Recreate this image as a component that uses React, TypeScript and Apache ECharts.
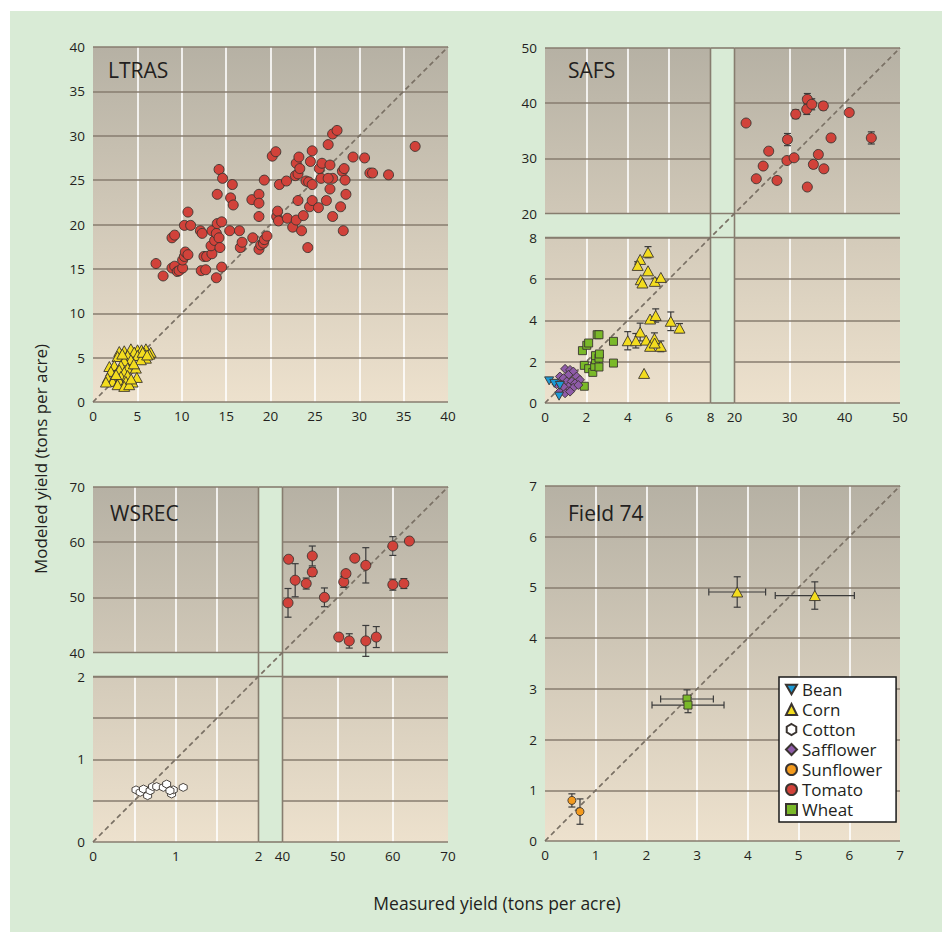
import React, { useEffect, useRef } from "react";
import * as echarts from "echarts";

// ---------------- DATA ----------------
const legendNames = ["Bean", "Corn", "Cotton", "Safflower", "Sunflower", "Tomato", "Wheat"];

// LTRAS
const ltrasTomato: number[][] = [
  [7.1, 15.6], [7.9, 14.2], [8.9, 18.5], [9.2, 18.8], [8.9, 15.1], [9.2, 15.3], [9.5, 14.7], [9.7, 14.8],
  [10.1, 15.1], [10.1, 16.0], [10.3, 16.4], [10.4, 16.9], [10.7, 16.6], [10.3, 19.9], [10.7, 21.4], [11.0, 19.9],
  [12.2, 14.8], [12.7, 14.9], [12.5, 16.4], [12.8, 16.4], [12.1, 19.3], [12.3, 19.0], [13.4, 19.3], [13.4, 16.7],
  [13.3, 17.6], [13.7, 18.2], [13.9, 19.0], [14.2, 18.5], [14.3, 17.4], [13.9, 14.0], [14.5, 15.2], [14.0, 20.1],
  [14.5, 20.3], [14.2, 26.2], [14.6, 25.2], [14.0, 23.4], [15.4, 19.3], [15.5, 23.0], [15.8, 22.2], [15.7, 24.5],
  [16.5, 19.3], [16.6, 17.4], [16.8, 18.0], [17.9, 22.8], [18.0, 18.5], [18.7, 23.4], [18.7, 22.4], [18.7, 20.9],
  [18.7, 17.2], [18.9, 17.7], [19.2, 17.9], [19.3, 18.3], [19.6, 18.7], [19.3, 25.0], [20.2, 27.7], [20.6, 28.2],
  [20.7, 20.9], [20.8, 21.5], [20.9, 20.4], [21.0, 24.5], [21.8, 24.9], [21.9, 20.7], [22.5, 19.7], [22.9, 20.5],
  [23.1, 22.7], [23.5, 19.3], [23.7, 21.0], [22.8, 25.5], [23.1, 25.7], [22.9, 26.9], [23.2, 27.6], [23.3, 26.3],
  [24.0, 24.9], [24.3, 24.8], [24.7, 24.5], [24.2, 17.4], [24.4, 22.0], [24.7, 22.7], [24.5, 27.1], [24.7, 28.3],
  [25.4, 21.9], [25.5, 26.3], [25.8, 26.9], [25.7, 25.2], [26.5, 29.0], [26.7, 26.7], [26.7, 24.0], [26.3, 22.7],
  [27.0, 20.9], [27.0, 25.2], [26.5, 25.2], [27.0, 30.2], [27.5, 30.6], [27.9, 22.0], [28.2, 19.3], [28.1, 26.0],
  [28.3, 26.3], [28.4, 25.0], [28.5, 23.4], [29.3, 27.6], [30.6, 27.5], [31.2, 25.8], [31.5, 25.8], [33.3, 25.6],
  [36.3, 28.8],
];
const ltrasCorn: number[][] = [
  [2.96, 5.69], [3.52, 5.77], [4.27, 5.99], [5.02, 5.88], [5.47, 5.88], [5.96, 5.99], [6.5, 5.6], [6.33, 5.39],
  [5.77, 5.51], [4.64, 5.62], [2.77, 5.13], [3.9, 5.24], [5.02, 5.24], [5.96, 4.94], [5.39, 4.76], [4.27, 4.76],
  [3.52, 4.64], [1.84, 4.0], [2.4, 4.12], [3.15, 4.12], [3.9, 3.82], [4.83, 3.82], [2.96, 3.63], [2.02, 3.45],
  [3.52, 3.37], [1.65, 2.7], [2.4, 2.77], [3.15, 2.88], [3.9, 3.0], [4.94, 2.77], [2.21, 2.32], [2.96, 2.4],
  [3.71, 2.32], [4.46, 2.25], [2.77, 1.95], [3.52, 1.76], [4.08, 1.95], [1.46, 2.25], [4.6, 4.3], [5.6, 5.6],
  [6.1, 5.3], [3.3, 5.4], [2.6, 3.1], [4.3, 2.6],
];

// SAFS  [x, y, yErr]
const safsTomato: number[][] = [
  [22.1, 36.4, 0], [23.95, 26.3, 0.4], [25.2, 28.6, 0], [26.2, 31.3, 0], [27.7, 26.0, 0], [29.5, 29.6, 0],
  [29.6, 33.4, 1.1], [30.8, 30.1, 0], [31.1, 38.0, 0.8], [33.2, 40.7, 1.05], [33.1, 38.9, 0.95], [34.0, 39.8, 1.0],
  [33.2, 24.8, 0], [34.3, 28.9, 0.7], [35.2, 30.7, 0], [36.1, 39.5, 0.7], [36.2, 28.1, 0.6], [37.5, 33.7, 0.65],
  [40.8, 38.3, 0], [44.8, 33.7, 1.1],
];
const safsCorn: number[][] = [
  [4.98, 7.29, 0.27], [4.6, 6.94, 0], [4.48, 6.65, 0.18], [4.98, 6.39, 0], [4.63, 5.96, 0], [4.71, 5.8, 0],
  [5.31, 5.88, 0.15], [5.6, 6.07, 0], [5.08, 4.06, 0], [5.35, 4.23, 0.32], [6.08, 3.95, 0.45], [6.5, 3.62, 0.22],
  [4.6, 3.43, 0.43], [4.0, 3.01, 0.44], [4.39, 3.01, 0.35], [4.89, 3.04, 0], [5.29, 3.12, 0.27], [5.08, 2.74, 0.18],
  [5.6, 2.74, 0.26], [4.79, 1.43, 0], [5.3, 2.9, 0],
];
const safsWheat: number[][] = [
  [1.81, 2.53], [2.02, 2.79], [2.11, 2.9], [2.52, 3.3], [2.61, 3.3], [3.31, 2.98], [3.31, 1.93], [1.9, 1.82],
  [2.11, 1.66], [2.31, 1.48], [2.4, 1.77], [2.44, 2.09], [2.44, 2.29], [2.61, 2.17], [2.63, 2.37], [2.61, 1.74],
  [1.9, 0.81],
];
const safsBean: number[][] = [[0.2, 1.07], [0.45, 0.95], [0.72, 0.85], [0.68, 0.33]];
const safsSafflower: number[][] = [
  [0.97, 1.65], [1.21, 1.6], [1.37, 1.52], [1.13, 1.36], [1.53, 1.28], [1.69, 1.12], [0.72, 1.28], [0.89, 1.2],
  [1.05, 1.04], [1.29, 1.04], [1.45, 0.95], [0.56, 0.91], [0.81, 0.87], [1.13, 0.79], [1.37, 0.74], [1.61, 0.87],
  [0.72, 0.55], [0.97, 0.47], [1.21, 0.55], [0.89, 0.79],
];

// WSREC  [x, y, yErr]
const wsrecTomato: number[][] = [
  [41.1, 56.9, 0], [42.3, 53.1, 3.0], [41.0, 49.0, 2.6], [44.3, 52.5, 1.0], [45.4, 57.5, 1.8], [45.4, 54.6, 0.8],
  [47.6, 50.0, 1.7], [50.2, 42.8, 0.5], [52.1, 42.1, 1.3], [51.1, 52.8, 1.0], [51.5, 54.3, 0.6], [53.1, 57.1, 0],
  [55.1, 55.8, 3.2], [55.1, 42.1, 2.8], [57.0, 42.8, 1.9], [60.0, 59.3, 1.7], [60.0, 52.3, 1.0], [62.0, 52.5, 0.9],
  [63.0, 60.2, 0],
];
const wsrecCotton: number[][] = [
  [0.52, 0.63], [0.57, 0.6], [0.61, 0.64], [0.66, 0.56], [0.69, 0.62], [0.72, 0.67], [0.77, 0.67], [0.85, 0.66],
  [0.89, 0.7], [0.95, 0.58], [0.97, 0.63], [1.09, 0.66], [0.93, 0.62],
];

// Field 74  [x, y, xErr, yErr]
const f74Corn: number[][] = [[3.79, 4.91, 0.56, 0.3], [5.32, 4.84, 0.78, 0.27]];
const f74Wheat: number[][] = [[2.8, 2.8, 0.52, 0.18], [2.82, 2.68, 0.71, 0.15]];
const f74Sunflower: number[][] = [[0.53, 0.8, 0, 0.13], [0.69, 0.58, 0, 0.25]];

// ---------------- STYLE / LAYOUT ----------------
const FONT = '"Open Sans", "Noto Sans", sans-serif';
const GREEN = "#d9ebd6";
const DARK = "#877d6f";
const TXT = "#231f20";
const P = 355;
const G = 24;
const S = (P - G) / 2;

const COLORS: Record<string, string> = {
  Bean: "#1b9ad6",
  Corn: "#f3dc1e",
  Cotton: "#ffffff",
  Safflower: "#8e5ba8",
  Sunflower: "#f39a1e",
  Tomato: "#d1423a",
  Wheat: "#7ab929",
};
const BEAN_PATH = "path://M0,0L10,0L5,8.66Z";
const HEX_PATH = "path://M5,0L9.33,2.5L9.33,7.5L5,10L0.67,7.5L0.67,2.5Z";
const SYMBOLS: Record<string, string> = {
  Bean: BEAN_PATH,
  Corn: "triangle",
  Cotton: HEX_PATH,
  Safflower: "diamond",
  Sunflower: "circle",
  Tomato: "circle",
  Wheat: "rect",
};

function buildOption() {
  const grids: any[] = [];
  const xAxes: any[] = [];
  const yAxes: any[] = [];
  const series: any[] = [];
  const graphics: any[] = [];

  const intFmt = (v: number) => (Number.isInteger(v) ? String(v) : "");

  function addGrid(left: number, top: number, w: number, h: number, xc: any, yc: any) {
    const gi = grids.length;
    grids.push({ left, top, width: w, height: h, containLabel: false });
    xAxes.push({
      gridIndex: gi, type: "value", min: xc.min, max: xc.max, interval: xc.interval, z: 0,
      axisLine: { show: false }, axisTick: { show: false },
      splitLine: { show: true, showMinLine: false, showMaxLine: false, lineStyle: { color: "#ffffff", width: 1.6 } },
      axisLabel: { show: xc.labels, color: TXT, fontSize: 13.5, fontFamily: FONT, margin: 7, formatter: xc.fmt },
    });
    yAxes.push({
      gridIndex: gi, type: "value", min: yc.min, max: yc.max, interval: yc.interval, z: 1,
      axisLine: { show: false }, axisTick: { show: false },
      splitLine: { show: true, showMinLine: true, showMaxLine: true, lineStyle: { color: DARK, width: 1.6 } },
      axisLabel: { show: yc.labels, color: TXT, fontSize: 13.5, fontFamily: FONT, margin: 8, formatter: yc.fmt },
    });
    return gi;
  }

  function addOverlay(left: number, top: number) {
    const gi = grids.length;
    grids.push({ left, top, width: P, height: P, containLabel: false });
    xAxes.push({ gridIndex: gi, type: "value", min: 0, max: 1, show: false });
    yAxes.push({ gridIndex: gi, type: "value", min: 0, max: 1, show: false });
    series.push({
      type: "line", xAxisIndex: gi, yAxisIndex: gi, data: [[0, 0], [1, 1]], symbol: "none", silent: true, z: 4,
      lineStyle: { color: "#7a7165", width: 1.7, type: [5, 3.5] },
    });
  }

  function sc(name: string, data: number[][], gi: number, size: any) {
    series.push({
      type: "scatter", name, data: data.map((d) => [d[0], d[1]]), xAxisIndex: gi, yAxisIndex: gi,
      symbol: SYMBOLS[name], symbolSize: size, symbolKeepAspect: false, silent: true, z: 6,
      itemStyle: { color: COLORS[name], borderColor: "#3a3430", borderWidth: 0.9, opacity: 1 },
    });
  }

  // items: [x, y, xLo, xHi, yLo, yHi]
  function eb(items: number[][], gi: number) {
    series.push({
      type: "custom", xAxisIndex: gi, yAxisIndex: gi, data: items, silent: true, z: 5, clip: false,
      encode: { x: 0, y: 1 },
      renderItem: (_p: any, api: any) => {
        const x = api.value(0), y = api.value(1);
        const xl = api.value(2), xh = api.value(3), yl = api.value(4), yh = api.value(5);
        const st = { stroke: "#3b3b3b", lineWidth: 1.2 };
        const ch: any[] = [];
        const cap = 3.5;
        if (yl !== yh) {
          const a = api.coord([x, yl]);
          const b = api.coord([x, yh]);
          ch.push({ type: "line", shape: { x1: a[0], y1: a[1], x2: b[0], y2: b[1] }, style: st });
          ch.push({ type: "line", shape: { x1: a[0] - cap, y1: a[1], x2: a[0] + cap, y2: a[1] }, style: st });
          ch.push({ type: "line", shape: { x1: b[0] - cap, y1: b[1], x2: b[0] + cap, y2: b[1] }, style: st });
        }
        if (xl !== xh) {
          const a = api.coord([xl, y]);
          const b = api.coord([xh, y]);
          ch.push({ type: "line", shape: { x1: a[0], y1: a[1], x2: b[0], y2: b[1] }, style: st });
          ch.push({ type: "line", shape: { x1: a[0], y1: a[1] - cap, x2: a[0], y2: a[1] + cap }, style: st });
          ch.push({ type: "line", shape: { x1: b[0], y1: b[1] - cap, x2: b[0], y2: b[1] + cap }, style: st });
        }
        return { type: "group", children: ch };
      },
    });
  }
  const yErrItems = (arr: number[][]) =>
    arr.filter((d) => d[2] > 0).map((d) => [d[0], d[1], d[0], d[0], d[1] - d[2], d[1] + d[2]]);
  const xyErrItems = (arr: number[][]) =>
    arr.map((d) => [d[0], d[1], d[0] - d[2], d[0] + d[2], d[1] - d[3], d[1] + d[3]]);

  const LT = { l: 93, t: 47 };
  const SA = { l: 545, t: 48 };
  const WS = { l: 93, t: 487 };
  const F7 = { l: 545, t: 486 };

  // LTRAS
  const gLT = addGrid(LT.l, LT.t, P, P, { min: 0, max: 40, interval: 5, labels: true }, { min: 0, max: 40, interval: 5, labels: true });
  // SAFS
  const gSA_LL = addGrid(SA.l, SA.t + S + G, S, S, { min: 0, max: 8, interval: 2, labels: true }, { min: 0, max: 8, interval: 2, labels: true });
  addGrid(SA.l + S + G, SA.t + S + G, S, S, { min: 20, max: 50, interval: 10, labels: true }, { min: 0, max: 8, interval: 2, labels: false });
  addGrid(SA.l, SA.t, S, S, { min: 0, max: 8, interval: 2, labels: false }, { min: 20, max: 50, interval: 10, labels: true });
  const gSA_UR = addGrid(SA.l + S + G, SA.t, S, S, { min: 20, max: 50, interval: 10, labels: false }, { min: 20, max: 50, interval: 10, labels: false });
  // WSREC
  const gWS_LL = addGrid(WS.l, WS.t + S + G, S, S, { min: 0, max: 2, interval: 0.5, labels: true, fmt: intFmt }, { min: 0, max: 2, interval: 0.5, labels: true, fmt: intFmt });
  addGrid(WS.l + S + G, WS.t + S + G, S, S, { min: 40, max: 70, interval: 10, labels: true }, { min: 0, max: 2, interval: 0.5, labels: false });
  addGrid(WS.l, WS.t, S, S, { min: 0, max: 2, interval: 0.5, labels: false }, { min: 40, max: 70, interval: 10, labels: true });
  const gWS_UR = addGrid(WS.l + S + G, WS.t, S, S, { min: 40, max: 70, interval: 10, labels: false }, { min: 40, max: 70, interval: 10, labels: false });
  // Field 74
  const gF7 = addGrid(F7.l, F7.t, P, P, { min: 0, max: 7, interval: 1, labels: true }, { min: 0, max: 7, interval: 1, labels: true });

  // diagonals
  addOverlay(LT.l, LT.t);
  addOverlay(SA.l, SA.t);
  addOverlay(WS.l, WS.t);
  addOverlay(F7.l, F7.t);

  // series
  sc("Tomato", ltrasTomato, gLT, 10);
  sc("Corn", ltrasCorn, gLT, [11, 10]);

  eb(yErrItems(safsTomato), gSA_UR);
  sc("Tomato", safsTomato, gSA_UR, 10);
  eb(yErrItems(safsCorn), gSA_LL);
  sc("Wheat", safsWheat, gSA_LL, 8);
  sc("Corn", safsCorn, gSA_LL, [11, 10]);
  sc("Safflower", safsSafflower, gSA_LL, 9);
  sc("Bean", safsBean, gSA_LL, [9, 8]);

  eb(yErrItems(wsrecTomato), gWS_UR);
  sc("Tomato", wsrecTomato, gWS_UR, 10);
  sc("Cotton", wsrecCotton, gWS_LL, 8);

  eb(xyErrItems(f74Corn), gF7);
  eb(xyErrItems(f74Wheat), gF7);
  eb(xyErrItems(f74Sunflower), gF7);
  sc("Corn", f74Corn, gF7, [11, 10]);
  sc("Wheat", f74Wheat, gF7, 8);
  sc("Sunflower", f74Sunflower, gF7, 8);

  // graphics
  graphics.push({ type: "rect", shape: { x: 10, y: 11, width: 942, height: 932 }, style: { fill: GREEN }, z: -10, silent: true });
  [LT, SA, WS, F7].forEach((p) => {
    graphics.push({
      type: "rect", shape: { x: p.l, y: p.t, width: P, height: P }, z: -5, silent: true,
      style: {
        fill: new echarts.graphic.LinearGradient(0, 0, 0, 1, [
          { offset: 0, color: "#b6b1a4" },
          { offset: 1, color: "#ede1cd" },
        ]),
      },
    });
  });
  [SA, WS].forEach((p) => {
    const xv1 = p.l + S, xv2 = p.l + S + G;
    const yh1 = p.t + S, yh2 = p.t + S + G;
    const ls = { stroke: DARK, lineWidth: 1.6 };
    graphics.push({ type: "rect", shape: { x: xv1, y: p.t, width: G, height: P }, style: { fill: GREEN }, z: 3, silent: true });
    graphics.push({ type: "rect", shape: { x: p.l, y: yh1, width: P, height: G }, style: { fill: GREEN }, z: 3, silent: true });
    [
      [xv1, p.t, xv1, p.t + P], [xv2, p.t, xv2, p.t + P],
      [p.l, yh1, p.l + P, yh1], [p.l, yh2, p.l + P, yh2],
      [xv1, p.t, xv2, p.t], [xv1, p.t + P, xv2, p.t + P],
    ].forEach((s) => {
      graphics.push({ type: "line", shape: { x1: s[0], y1: s[1], x2: s[2], y2: s[3] }, style: ls, z: 3.5, silent: true });
    });
  });
  const titleStyle = (text: string) => ({ text, fill: TXT, font: `21px ${FONT}`, textVerticalAlign: "middle" });
  graphics.push({ type: "text", x: LT.l + 15, y: LT.t + 23, style: titleStyle("LTRAS"), z: 7 });
  graphics.push({ type: "text", x: SA.l + 23, y: SA.t + 22, style: titleStyle("SAFS"), z: 7 });
  graphics.push({ type: "text", x: WS.l + 17, y: WS.t + 25.5, style: titleStyle("WSREC"), z: 7 });
  graphics.push({ type: "text", x: F7.l + 23, y: F7.t + 26.5, style: titleStyle("Field 74"), z: 7 });
  graphics.push({
    type: "text", x: 40, y: 459, rotation: Math.PI / 2, z: 7,
    style: { text: "Modeled yield (tons per acre)", fill: TXT, font: `17px ${FONT}`, textAlign: "center", textVerticalAlign: "middle" },
  });
  graphics.push({
    type: "text", x: 497, y: 903, z: 7,
    style: { text: "Measured yield (tons per acre)", fill: TXT, font: `17.5px ${FONT}`, textAlign: "center", textVerticalAlign: "middle" },
  });

  return {
    animation: false,
    backgroundColor: "#ffffff",
    grid: grids,
    xAxis: xAxes,
    yAxis: yAxes,
    series,
    graphic: { elements: graphics },
    legend: {
      data: legendNames.map((n) => ({ name: n, icon: SYMBOLS[n] })),
      orient: "vertical", left: 779, top: 677, z: 10,
      backgroundColor: "#ffffff", borderColor: "#1a1a1a", borderWidth: 1.5, borderRadius: 0,
      padding: [4, 14, 4, 6], itemGap: 3, itemWidth: 11, itemHeight: 11, selectedMode: false,
      textStyle: { fontSize: 17, lineHeight: 17, color: TXT, fontFamily: FONT },
    },
  };
}

export default function App() {
  const ref = useRef<HTMLDivElement>(null);
  useEffect(() => {
    const chart = echarts.init(ref.current!, null, { renderer: "svg" });
    chart.setOption(buildOption() as any);
    return () => chart.dispose();
  }, []);
  return (
    <div
      ref={ref}
      style={{ position: "absolute", left: 0, top: 0, width: 942, height: 932, background: "#fff" }}
    />
  );
}
